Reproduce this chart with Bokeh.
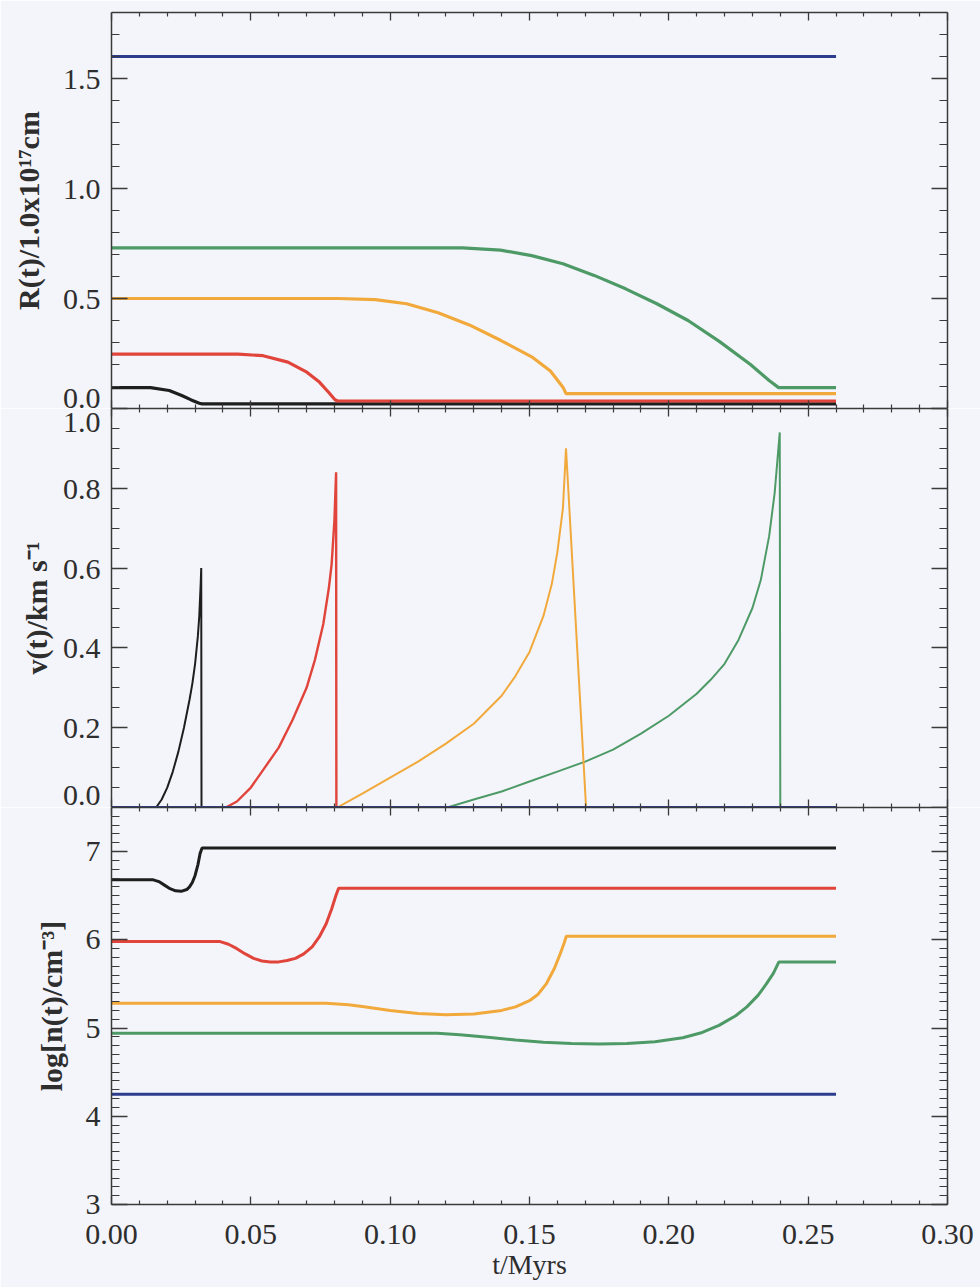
from bokeh.plotting import figure
from bokeh.models import Range1d, LinearAxis, FixedTicker, PrintfTickFormatter, CustomJSTickFormatter
from bokeh.layouts import column
from bokeh.embed import file_html
from bokeh.resources import INLINE

# ---------------- data ----------------
# time axis: t / Myrs
x_major = [0.0, 0.05, 0.10, 0.15, 0.20, 0.25, 0.30]
x_minor = [0.01, 0.02, 0.03, 0.04, 0.06, 0.07, 0.08, 0.09, 0.11, 0.12, 0.13, 0.14,
           0.16, 0.17, 0.18, 0.19, 0.21, 0.22, 0.23, 0.24, 0.26, 0.27, 0.28, 0.29]

# panel 1: R(t) / 1e17 cm
R_blue_t = [0.0, 0.26]
R_blue = [1.6, 1.6]
R_green_t = [0.0, 0.126, 0.1396, 0.1508, 0.162, 0.1732, 0.1845, 0.1957, 0.2069, 0.2181, 0.2293,
             0.236, 0.2394, 0.26]
R_green = [0.73, 0.73, 0.72, 0.695, 0.658, 0.605, 0.544, 0.476, 0.40, 0.305, 0.20,
           0.127, 0.095, 0.095]
R_orange_t = [0.0, 0.0813, 0.0947, 0.1059, 0.1172, 0.1284, 0.1396, 0.1508, 0.1575, 0.162, 0.1631, 0.26]
R_orange = [0.50, 0.50, 0.495, 0.476, 0.435, 0.38, 0.31, 0.235, 0.17, 0.097, 0.068, 0.068]
R_red_t = [0.0, 0.0454, 0.0544, 0.0633, 0.0701, 0.0746, 0.0779, 0.0802, 0.0812, 0.26]
R_red = [0.247, 0.247, 0.24, 0.211, 0.165, 0.12, 0.074, 0.04, 0.034, 0.034]
R_black_t = [0.0, 0.014, 0.0207, 0.0252, 0.0286, 0.0315, 0.0325, 0.26]
R_black = [0.095, 0.095, 0.082, 0.059, 0.039, 0.024, 0.021, 0.021]

# panel 2: v(t) / km s^-1
v_blue_t = [0.0, 0.26]
v_blue = [0.0, 0.0]
v_black_t = [0.0, 0.016, 0.018, 0.020, 0.022, 0.024, 0.026, 0.028, 0.029, 0.030, 0.031, 0.0315,
             0.032, 0.0322, 0.0323, 0.26]
v_black = [0.0, 0.0, 0.02, 0.05, 0.09, 0.14, 0.20, 0.27, 0.31, 0.36, 0.43, 0.48, 0.56, 0.60, 0.0, 0.0]
v_red_t = [0.0, 0.041, 0.045, 0.05, 0.055, 0.06, 0.065, 0.07, 0.073, 0.076, 0.078, 0.079, 0.080,
           0.0806, 0.0807, 0.26]
v_red = [0.0, 0.0, 0.015, 0.05, 0.10, 0.15, 0.22, 0.30, 0.37, 0.46, 0.55, 0.61, 0.72, 0.84, 0.0, 0.0]
v_orange_t = [0.0, 0.081, 0.09, 0.10, 0.11, 0.12, 0.13, 0.14, 0.145, 0.15, 0.155, 0.158, 0.160,
              0.162, 0.1631, 0.1703, 0.26]
v_orange = [0.0, 0.0, 0.035, 0.075, 0.115, 0.16, 0.21, 0.28, 0.33, 0.39, 0.48, 0.56, 0.64,
            0.75, 0.90, 0.0, 0.0]
v_green_t = [0.0, 0.1205, 0.13, 0.14, 0.15, 0.16, 0.17, 0.18, 0.19, 0.20, 0.21, 0.215, 0.22,
             0.225, 0.23, 0.233, 0.236, 0.238, 0.2398, 0.2400, 0.26]
v_green = [0.0, 0.0, 0.02, 0.04, 0.065, 0.09, 0.115, 0.145, 0.185, 0.23, 0.285, 0.32, 0.36,
           0.42, 0.50, 0.57, 0.68, 0.79, 0.94, 0.0, 0.0]

# panel 3: log[n(t)/cm^-3]
n_blue_t = [0.0, 0.26]
n_blue = [4.25, 4.25]
n_black_t = [0.0, 0.015, 0.017, 0.019, 0.021, 0.023, 0.025, 0.027, 0.028, 0.029, 0.030, 0.031,
             0.0318, 0.0325, 0.26]
n_black = [6.68, 6.68, 6.66, 6.62, 6.58, 6.555, 6.55, 6.57, 6.60, 6.65, 6.73, 6.85, 6.98, 7.04, 7.04]
n_red_t = [0.0, 0.039, 0.042, 0.045, 0.048, 0.051, 0.054, 0.057, 0.060, 0.063, 0.066, 0.069,
           0.072, 0.0745, 0.077, 0.079, 0.0805, 0.0815, 0.26]
n_red = [5.98, 5.98, 5.95, 5.90, 5.84, 5.79, 5.76, 5.75, 5.75, 5.765, 5.79, 5.84,
         5.92, 6.03, 6.18, 6.35, 6.50, 6.585, 6.585]
n_orange_t = [0.0, 0.077, 0.085, 0.09, 0.10, 0.11, 0.12, 0.13, 0.14, 0.145, 0.15, 0.153, 0.156,
              0.159, 0.161, 0.1625, 0.1632, 0.26]
n_orange = [5.28, 5.28, 5.265, 5.245, 5.20, 5.165, 5.15, 5.16, 5.20, 5.24, 5.31, 5.38, 5.50,
            5.68, 5.84, 5.97, 6.04, 6.04]
n_green_t = [0.0, 0.117, 0.125, 0.135, 0.145, 0.155, 0.165, 0.175, 0.185, 0.195, 0.205, 0.212,
             0.218, 0.224, 0.228, 0.232, 0.235, 0.2375, 0.2395, 0.26]
n_green = [4.94, 4.94, 4.925, 4.895, 4.865, 4.84, 4.825, 4.82, 4.825, 4.845, 4.89, 4.95,
           5.03, 5.14, 5.24, 5.37, 5.50, 5.62, 5.75, 5.75]

# ---------------- styling ----------------
BG = "#f4f5fb"
AX = "#3a3a3a"
TXT = "#2e2e2e"
C_BLUE = "#2d3d8e"
C_GREEN = "#4e9a66"
C_ORANGE = "#f2a93b"
C_RED = "#e0443a"
C_BLACK = "#1e1e1e"
FONT = "Liberation Serif"
TICK_FS = "30px"


def make_fig(height, yr, top, bottom):
    p = figure(width=980, height=height, x_range=Range1d(0.0, 0.30), y_range=Range1d(*yr),
               output_backend="svg", toolbar_location=None,
               x_axis_location=None, y_axis_location=None,
               min_border_left=111, min_border_right=33,
               min_border_top=top, min_border_bottom=bottom,
               background_fill_color=BG, border_fill_color=BG, outline_line_color=None)
    p.xgrid.grid_line_color = None
    p.ygrid.grid_line_color = None
    return p


def axis(ticks, minor, major_len, minor_len, label=None, fmt=None, overrides=None, lh=None,
         title_standoff=15):
    a = LinearAxis(ticker=FixedTicker(ticks=ticks, minor_ticks=minor),
                   axis_line_color=AX, axis_line_width=1.5,
                   major_tick_in=major_len, major_tick_out=0,
                   minor_tick_in=minor_len, minor_tick_out=0,
                   major_tick_line_color=AX, minor_tick_line_color=AX,
                   major_tick_line_width=1.3, minor_tick_line_width=1.2)
    if fmt is not None:
        a.formatter = PrintfTickFormatter(format=fmt)
        a.major_label_text_font = FONT
        a.major_label_text_font_size = TICK_FS
        a.major_label_text_color = TXT
        a.major_label_standoff = 11
        if overrides:
            a.major_label_overrides = overrides
        if lh is not None:
            a.major_label_text_line_height = lh
    else:
        a.formatter = CustomJSTickFormatter(code="return ''")
        a.major_label_text_font_size = "1px"
        a.major_label_standoff = 0
    if label is not None:
        a.axis_label = label
        a.axis_label_text_font = FONT
        a.axis_label_text_font_style = "bold"
        a.axis_label_text_font_size = "30px"
        a.axis_label_text_color = TXT
        a.axis_label_standoff = title_standoff
    return a


# ---------------- panel 1 ----------------
p1 = make_fig(408, (0.0, 1.8), 12, 0)
y1_major = [0.0, 0.5, 1.0, 1.5]
y1_minor = [0.1, 0.2, 0.3, 0.4, 0.6, 0.7, 0.8, 0.9, 1.1, 1.2, 1.3, 1.4, 1.6, 1.7]
p1.add_layout(axis(y1_major, y1_minor, 16, 8, "R(t)/1.0x10¹⁷cm", "%.1f", {0: "0.0\n "}, -0.18), "left")
p1.add_layout(axis(y1_major, y1_minor, 16, 8), "right")
p1.add_layout(axis(x_major, x_minor, 8, 4), "above")
p1.add_layout(axis(x_major, x_minor, 8, 4), "below")
W1 = 3.2
p1.line(R_blue_t, R_blue, line_color=C_BLUE, line_width=W1)
p1.line(R_green_t, R_green, line_color=C_GREEN, line_width=W1)
p1.line(R_orange_t, R_orange, line_color=C_ORANGE, line_width=W1)
p1.line(R_black_t, R_black, line_color=C_BLACK, line_width=W1)
p1.line(R_red_t, R_red, line_color=C_RED, line_width=W1)

# ---------------- panel 2 ----------------
p2 = make_fig(399, (0.0, 1.0), 0, 0)
y2_major = [0.0, 0.2, 0.4, 0.6, 0.8, 1.0]
y2_minor = [0.05, 0.1, 0.15, 0.25, 0.3, 0.35, 0.45, 0.5, 0.55, 0.65, 0.7, 0.75, 0.85, 0.9, 0.95]
p2.add_layout(axis(y2_major, y2_minor, 16, 8, "v(t)/km s⁻¹", "%.1f",
                   {0: "0.0\n ", 1: " \n1.0"}, -0.1, title_standoff=7), "left")
p2.add_layout(axis(y2_major, y2_minor, 16, 8), "right")
p2.add_layout(axis(x_major, x_minor, 8, 4), "above")
p2.add_layout(axis(x_major, x_minor, 8, 4), "below")
W2 = 2.0
p2.line(v_green_t, v_green, line_color=C_GREEN, line_width=W2)
p2.line(v_orange_t, v_orange, line_color=C_ORANGE, line_width=W2)
p2.line(v_red_t, v_red, line_color=C_RED, line_width=2.4)
p2.line(v_black_t, v_black, line_color=C_BLACK, line_width=W2)
p2.line(v_blue_t, v_blue, line_color=C_BLUE, line_width=3)

# ---------------- panel 3 ----------------
p3 = make_fig(480, (3.0, 7.5), 0, 83)
y3_major = [3, 4, 5, 6, 7]
y3_minor = [round(3 + i * 0.1, 1) for i in range(46) if i % 10 != 0]
p3.add_layout(axis(y3_major, y3_minor, 16, 8, "log[n(t)/cm⁻³]", "%d"), "left")
p3.add_layout(axis(y3_major, y3_minor, 16, 8), "right")
p3.add_layout(axis(x_major, x_minor, 8, 4), "above")
xb = axis(x_major, x_minor, 8, 4, "t/Myrs", "%.2f")
xb.major_label_standoff = 20
xb.axis_label_text_font_style = "normal"
xb.axis_label_text_font_size = "28px"
xb.axis_label_standoff = 2
p3.add_layout(xb, "below")
W3 = 3.0
p3.line(n_blue_t, n_blue, line_color=C_BLUE, line_width=W3)
p3.line(n_green_t, n_green, line_color=C_GREEN, line_width=W3)
p3.line(n_orange_t, n_orange, line_color=C_ORANGE, line_width=W3)
p3.line(n_red_t, n_red, line_color=C_RED, line_width=W3)
p3.line(n_black_t, n_black, line_color=C_BLACK, line_width=W3)

layout = column(p1, p2, p3, spacing=0)
open("out.html", "w").write(file_html(layout, INLINE, title="R, v, n vs t"))
